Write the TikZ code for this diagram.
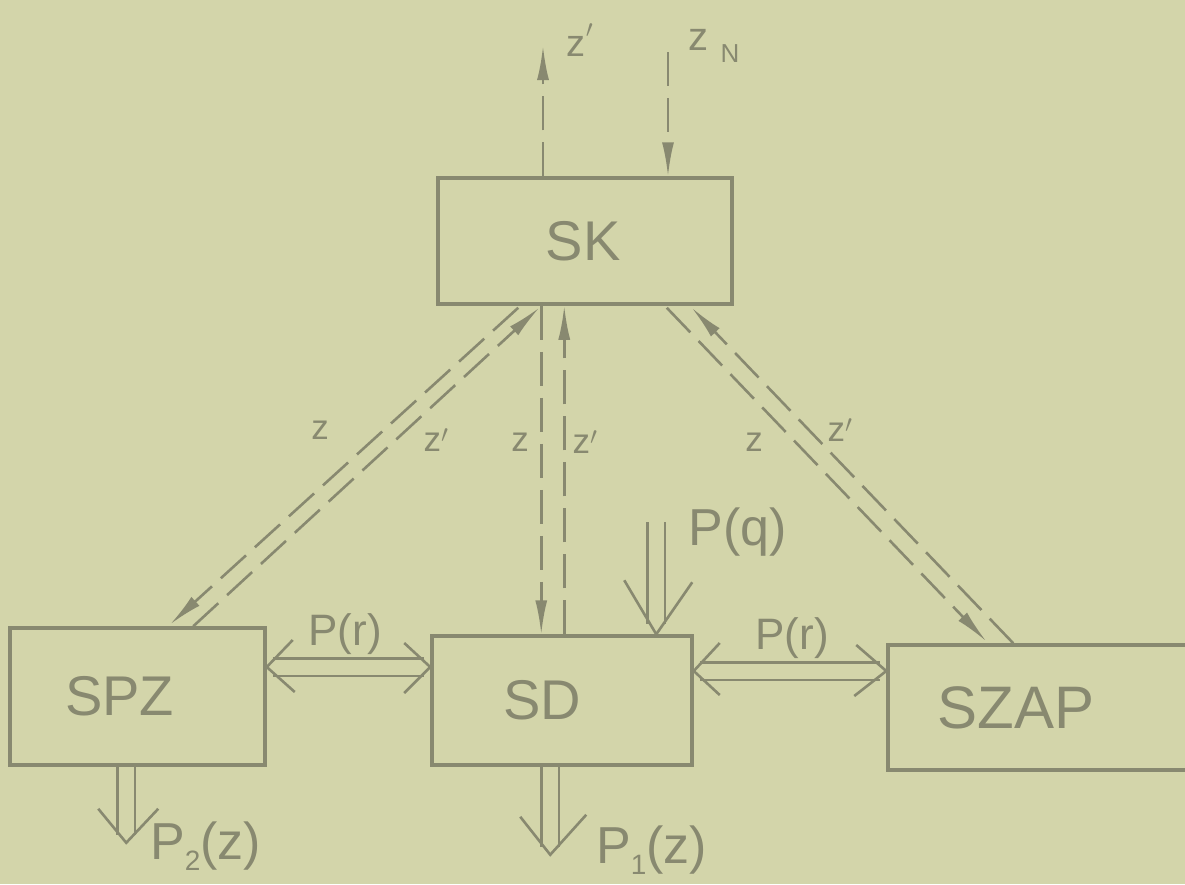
\documentclass[tikz,border=0pt]{standalone}
\usepackage{fontspec}
\setmainfont{Liberation Sans}
\usetikzlibrary{arrows.meta,calc}
\definecolor{paper}{RGB}{211,213,170}
\definecolor{ink}{RGB}{136,137,112}
\begin{document}
\begin{tikzpicture}[x=1pt,y=-1pt,
  box/.style={draw=ink, line width=3.5pt, rectangle, inner sep=0pt, text=ink},
  boxtext/.style={text=ink, inner sep=0pt, font=\fontsize{56}{60}\selectfont},
  zdash/.style={draw=ink, line width=2.6pt, dash pattern=on 34pt off 12pt},
  ztip/.style={-{Latex[length=34pt,width=12pt]}},
  lbl/.style={text=ink, inner sep=0pt},
  zlbl/.style={lbl, font=\fontsize{35}{35}\selectfont},
  plbl/.style={lbl, font=\fontsize{44}{44}\selectfont},
  shaft/.style={draw=ink, line width=2.6pt, double=paper, double distance=15pt},
  head/.style={draw=ink, line width=2.6pt, line join=miter}
]
\fill[paper] (0,0) rectangle (1185,884);
\useasboundingbox (0,0) rectangle (1185,884);

% boxes
\node[box, minimum width=294pt, minimum height=126pt,
      label={[boxtext, xshift=-2pt]center:SK}] (SK) at (585,241) {};
\node[box, minimum width=255pt, minimum height=137pt,
      label={[boxtext, xshift=-18pt]center:SPZ}] (SPZ) at (137.5,696.5) {};
\node[box, minimum width=260pt, minimum height=129pt,
      label={[boxtext, xshift=-20pt]center:SD}] (SD) at (562,700.5) {};
\node[box, minimum width=306pt, minimum height=125pt,
      label={[boxtext, xshift=-25pt, font=\fontsize{60}{60}\selectfont]center:SZAP}] (SZAP) at (1041,707.5) {};

% top connectors
\coordinate (zo) at (543,46);
\coordinate (zn) at (668,52);
\draw[zdash, ztip] (zo |- SK.north) -- (zo);
\draw[zdash, ztip] (zn) -- (zn |- SK.north);
\node[lbl, font=\fontsize{38}{38}\selectfont] (lzo) at (580,40) {z\raisebox{10pt}{$'$}};
\node[lbl, font=\fontsize{40}{40}\selectfont] (lzn) at (714,46) {z\hspace{12pt}\raisebox{-12pt}{\fontsize{26}{26}\selectfont N}};

% SK -- SPZ
\draw[zdash, ztip] ($(SK.south west)+(82,2)$) -- ($(SPZ.north west)+(162,-2)$);
\draw[zdash, ztip] ($(SPZ.north west)+(185,0)$) -- ($(SK.south west)+(103,2)$);
\node[zlbl] (l1) at (320,430) {z};
\node[zlbl] (l2) at (436,440) {z$'$};

% SK -- SD
\coordinate (v1) at ($(SD.north west)+(111,0)$);
\coordinate (v2) at ($(SD.north west)+(134,0)$);
\draw[zdash, ztip] (v1 |- SK.south) -- (v1);
\draw[zdash, ztip] (v2) -- (v2 |- SK.south);
\node[zlbl] (l3) at (520,442) {z};
\node[zlbl] (l4) at (585,442) {z$'$};

% SK -- SZAP
\draw[zdash, ztip] ($(SK.south east)+(-67,2)$) -- ($(SZAP.north west)+(100,-2)$);
\draw[zdash, ztip] ($(SZAP.north west)+(127,0)$) -- ($(SK.south east)+(-42,2)$);
\node[zlbl] (l5) at (754,442) {z};
\node[zlbl] (l6) at (840,430) {z$'$};

% P(q) into SD
\coordinate (pq) at ($(SD.north west)+(226,0)$);
\draw[shaft] ($(pq)+(0,-112)$) -- ($(pq)+(0,-10)$);
\draw[head] ($(pq)+(-32,-54)$) -- (pq) -- ($(pq)+(36,-52)$);
\node[plbl, font=\fontsize{52}{52}\selectfont] (lpq) at (738,532) {P(q)};

% P(r) SPZ <-> SD
\coordinate (r1) at (0,667);
\coordinate (r1a) at (SPZ.east |- r1);
\coordinate (r1b) at (SD.west |- r1);
\draw[shaft] ($(r1a)+(6,0)$) -- ($(r1b)+(-6,0)$);
\draw[head] ($(r1a)+(26,-27)$) -- (r1a) -- ($(r1a)+(28,25)$);
\draw[head] ($(r1b)+(-26,-24)$) -- (r1b) -- ($(r1b)+(-26,26)$);
\node[plbl] (lr1) at (345,634) {P(r)};

% P(r) SD <-> SZAP
\coordinate (r2) at (0,671);
\coordinate (r2a) at (SD.east |- r2);
\coordinate (r2b) at (SZAP.west |- r2);
\draw[shaft] ($(r2a)+(6,0)$) -- ($(r2b)+(-6,0)$);
\draw[head] ($(r2a)+(26,-28)$) -- (r2a) -- ($(r2a)+(26,24)$);
\draw[head] ($(r2b)+(-30,-26)$) -- (r2b) -- ($(r2b)+(-32,25)$);
\node[plbl] (lr2) at (792,638) {P(r)};

% outputs
\coordinate (o2) at ($(SPZ.south west)+(118,0)$);
\coordinate (o2t) at ($(o2)+(0,76)$);
\draw[shaft] (o2) -- ($(o2t)+(0,-8)$);
\draw[head] ($(o2t)+(-28,-34)$) -- (o2t) -- ($(o2t)+(32,-34)$);
\node[lbl, font=\fontsize{52}{52}\selectfont, anchor=west] (lp2) at (150,846) {P\raisebox{-11pt}{\fontsize{28}{28}\selectfont 2}(z)};

\coordinate (o1) at ($(SD.south west)+(120,0)$);
\coordinate (o1t) at ($(o1)+(0,88)$);
\draw[shaft] (o1) -- ($(o1t)+(0,-8)$);
\draw[head] ($(o1t)+(-30,-38)$) -- (o1t) -- ($(o1t)+(36,-40)$);
\node[lbl, font=\fontsize{52}{52}\selectfont, anchor=west] (lp1) at (596,850) {P\raisebox{-11pt}{\fontsize{28}{28}\selectfont 1}(z)};
\end{tikzpicture}
\end{document}
